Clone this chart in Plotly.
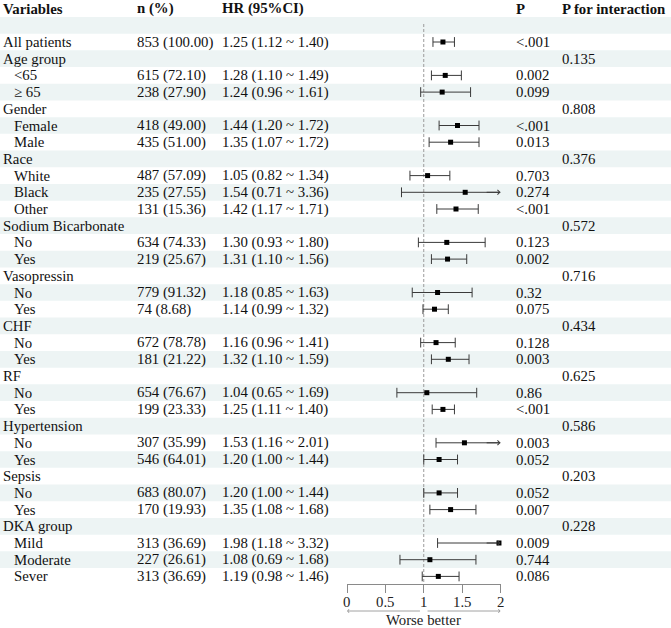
import html
import plotly.graph_objects as go

# ---------------- data ----------------
labels = ["All patients", "Age group", "<65", "≥ 65", "Gender", "Female", "Male",
          "Race", "White", "Black", "Other", "Sodium Bicarbonate", "No", "Yes",
          "Vasopressin", "No", "Yes", "CHF", "No", "Yes", "RF", "No", "Yes",
          "Hypertension", "No", "Yes", "Sepsis", "No", "Yes",
          "DKA group", "Mild", "Moderate", "Sever"]
indent = [0, 0, 1, 1, 0, 1, 1, 0, 1, 1, 1, 0, 1, 1, 0, 1, 1, 0, 1, 1, 0, 1, 1,
          0, 1, 1, 0, 1, 1, 0, 1, 1, 1]
n_pct = ["853 (100.00)", "", "615 (72.10)", "238 (27.90)", "", "418 (49.00)", "435 (51.00)",
         "", "487 (57.09)", "235 (27.55)", "131 (15.36)", "", "634 (74.33)", "219 (25.67)",
         "", "779 (91.32)", "74 (8.68)", "", "672 (78.78)", "181 (21.22)", "", "654 (76.67)", "199 (23.33)",
         "", "307 (35.99)", "546 (64.01)", "", "683 (80.07)", "170 (19.93)",
         "", "313 (36.69)", "227 (26.61)", "313 (36.69)"]
hr = [1.25, None, 1.28, 1.24, None, 1.44, 1.35, None, 1.05, 1.54, 1.42, None, 1.30, 1.31,
      None, 1.18, 1.14, None, 1.16, 1.32, None, 1.04, 1.25, None, 1.53, 1.20, None, 1.20, 1.35,
      None, 1.98, 1.08, 1.19]
lo = [1.12, None, 1.10, 0.96, None, 1.20, 1.07, None, 0.82, 0.71, 1.17, None, 0.93, 1.10,
      None, 0.85, 0.99, None, 0.96, 1.10, None, 0.65, 1.11, None, 1.16, 1.00, None, 1.00, 1.08,
      None, 1.18, 0.69, 0.98]
hi = [1.40, None, 1.49, 1.61, None, 1.72, 1.72, None, 1.34, 3.36, 1.71, None, 1.80, 1.56,
      None, 1.63, 1.32, None, 1.41, 1.59, None, 1.69, 1.40, None, 2.01, 1.44, None, 1.44, 1.68,
      None, 3.32, 1.68, 1.46]
p_val = ["<.001", "", "0.002", "0.099", "", "<.001", "0.013", "", "0.703", "0.274", "<.001",
         "", "0.123", "0.002", "", "0.32", "0.075", "", "0.128", "0.003", "", "0.86", "<.001",
         "", "0.003", "0.052", "", "0.052", "0.007", "", "0.009", "0.744", "0.086"]
p_int = ["", "0.135", "", "", "0.808", "", "", "0.376", "", "", "", "0.572", "", "",
         "0.716", "", "", "0.434", "", "", "0.625", "", "", "0.586", "", "", "0.203", "", "",
         "0.228", "", "", ""]
headers = ["Variables", "n (%)", "HR (95%CI)", "P", "P for interaction"]
x_ticks = [0, 0.5, 1, 1.5, 2]
x_tick_text = ["0", "0.5", "1", "1.5", "2"]
x_max = 2

# ---------------- layout constants ----------------
W, H = 671, 628
FONT = "Liberation Serif"
FS = 14.8
ROW0 = 8.6      # pixel centre of header row
STEP = 16.7     # pixel row step
AXIS_PX = 584.3
first_row = 2
col_px = [1, 135, 220, 514, 560]
indent_px = 11
shade = "#EDF4F4"
line_col = "#3a3a3a"
grey = "#8a8a8a"

def px2row(py):
    return (py - ROW0) / STEP

rows = [first_row + i for i in range(len(labels))]

fig = go.Figure()

# CI lines
lx, ly = [], []
cap_x, cap_y = [], []
arrows = []
for r, h, l, u in zip(rows, hr, lo, hi):
    if h is None:
        continue
    u_draw = min(u, x_max)
    lx += [l, u_draw, None]
    ly += [r, r, None]
    cap_x.append(l); cap_y.append(r)
    if u > x_max:
        arrows.append(r)
    else:
        cap_x.append(u); cap_y.append(r)

fig.add_trace(go.Scatter(x=lx, y=ly, mode="lines", line=dict(color=line_col, width=1),
                         hoverinfo="skip", showlegend=False, cliponaxis=False))
fig.add_trace(go.Scatter(x=cap_x, y=cap_y, mode="markers",
                         marker=dict(symbol="line-ns", size=7, line=dict(color=line_col, width=1)),
                         hoverinfo="skip", showlegend=False, cliponaxis=False))
pts = [(h, r) for r, h in zip(rows, hr) if h is not None]
fig.add_trace(go.Scatter(x=[a for a, _ in pts], y=[b for _, b in pts], mode="markers",
                         marker=dict(symbol="square", size=5, color="black"),
                         hoverinfo="skip", showlegend=False, cliponaxis=False))

shapes = []
total_rows = first_row + len(labels)
for r in range(1, total_rows, 2):
    shapes.append(dict(type="rect", xref="paper", yref="y", x0=0, x1=1, y0=r - 0.5, y1=r + 0.5,
                       fillcolor=shade, line=dict(width=0), layer="below"))
shapes.append(dict(type="line", xref="x", yref="y", x0=1, x1=1, y0=px2row(24), y1=px2row(AXIS_PX),
                   line=dict(color="#9a9a9a", width=1, dash="3px,2px"), layer="below"))

ann = []
def txt(x_px, row, s, bold=False):
    s = html.escape(s)
    if bold:
        s = "<b>" + s + "</b>"
    ann.append(dict(x=x_px / W, y=row, xref="paper", yref="y", text=s, showarrow=False,
                    xanchor="left", yanchor="middle",
                    font=dict(family=FONT, size=FS, color="#111")))

for c, h in zip(col_px, headers):
    txt(c, 0, h, bold=True)

for i, r in enumerate(rows):
    txt(col_px[0] + (indent_px if indent[i] else 0), r, labels[i])
    if n_pct[i]:
        txt(col_px[1], r, n_pct[i])
    if hr[i] is not None:
        txt(col_px[2], r, f"{hr[i]:.2f} ({lo[i]:.2f} ~ {hi[i]:.2f})")
    if p_val[i]:
        txt(col_px[3], r, p_val[i])
    if p_int[i]:
        txt(col_px[4], r, p_int[i])

# arrows for truncated CIs
for r in arrows:
    ann.append(dict(x=x_max, y=r, xref="x", yref="y", ax=x_max - 0.2, ay=r, axref="x", ayref="y",
                    showarrow=True, arrowhead=4, arrowsize=0.9, arrowwidth=1, arrowcolor=line_col,
                    text=""))

# tick labels
for tv, tt in zip(x_ticks, x_tick_text):
    ann.append(dict(x=tv, y=px2row(602), xref="x", yref="y", text=tt, showarrow=False,
                    xanchor="center", yanchor="middle", font=dict(family=FONT, size=FS, color="#222")))

# direction arrows below axis
arr_row = px2row(611)
ann.append(dict(x=0, y=arr_row, xref="x", yref="y", ax=0.97, ay=arr_row, axref="x", ayref="y",
                showarrow=True, arrowhead=4, arrowsize=0.8, arrowwidth=0.8, arrowcolor=grey, text=""))
ann.append(dict(x=2, y=arr_row, xref="x", yref="y", ax=1.03, ay=arr_row, axref="x", ayref="y",
                showarrow=True, arrowhead=4, arrowsize=0.8, arrowwidth=0.8, arrowcolor=grey, text=""))
ann.append(dict(x=1, y=px2row(620), xref="x", yref="y", text="Worse better", showarrow=False,
                xanchor="center", yanchor="middle", font=dict(family=FONT, size=FS, color="#222")))

fig.update_layout(
    width=W, height=H, margin=dict(l=0, r=0, t=0, b=0),
    paper_bgcolor="white", plot_bgcolor="rgba(0,0,0,0)",
    shapes=shapes, annotations=ann, showlegend=False,
    xaxis=dict(domain=[347 / W, 500.5 / W], range=[0, 2], anchor="free", position=1 - AXIS_PX / H,
               showline=True, linecolor=grey, linewidth=1, ticks="outside", ticklen=8,
               tickcolor=grey, tickwidth=1, tickvals=x_ticks, showticklabels=False,
               showgrid=False, zeroline=False, fixedrange=True),
    yaxis=dict(domain=[0, 1], range=[px2row(H), px2row(0)], visible=False, showgrid=False,
               zeroline=False, fixedrange=True),
)

fig.write_html("out.html", config={"displayModeBar": False})
